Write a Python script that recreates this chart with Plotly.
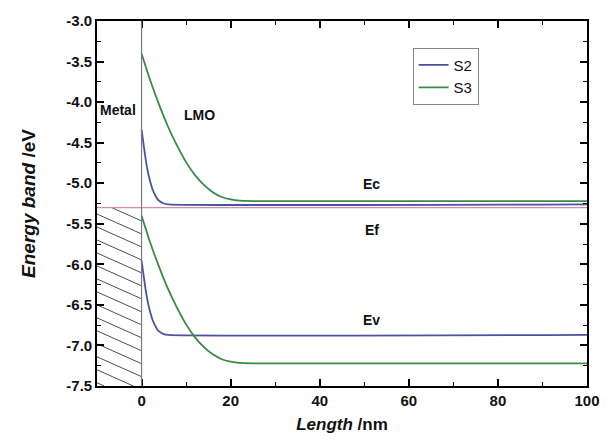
import numpy as np
import plotly.graph_objects as go

# ---- data ----
x_s3 = [0, 2, 4, 6, 8, 10, 12, 14, 16, 18, 20, 22, 25, 100]
ec_s3 = [-3.40, -3.74, -4.04, -4.31, -4.54, -4.74, -4.90, -5.02, -5.11, -5.17, -5.20, -5.215, -5.22, -5.22]
ev_s3 = [-5.40, -5.74, -6.04, -6.31, -6.54, -6.74, -6.90, -7.02, -7.11, -7.17, -7.20, -7.215, -7.22, -7.22]

x_s2 = [0, 0.5, 1, 1.5, 2, 2.5, 3, 3.5, 4, 5, 6, 100]
ec_s2 = [-4.34, -4.54, -4.73, -4.88, -4.99, -5.08, -5.14, -5.19, -5.22, -5.25, -5.26, -5.26]
ev_s2 = [-5.95, -6.15, -6.34, -6.49, -6.60, -6.69, -6.75, -6.80, -6.83, -6.86, -6.87, -6.87]

ef_level = -5.30
x_range = [-10, 100]
y_range = [-7.5, -3.0]

x_ticks = [0, 20, 40, 60, 80, 100]
x_tick_labels = ["0", "20", "40", "60", "80", "100"]
y_ticks = [-3.0, -3.5, -4.0, -4.5, -5.0, -5.5, -6.0, -6.5, -7.0, -7.5]
y_tick_labels = ["-3.0", "-3.5", "-4.0", "-4.5", "-5.0", "-5.5", "-6.0", "-6.5", "-7.0", "-7.5"]

labels = ["Metal", "LMO", "Ec", "Ef", "Ev"]
label_x = [-5.2, 12.9, 51.7, 51.7, 51.7]
label_y = [-4.10, -4.16, -5.01, -5.58, -6.69]

BLUE = "#4b52a6"
GREEN = "#3b8a43"
PINK = "#d98aa6"
FONT = "Liberation Sans, Arial, sans-serif"

fig = go.Figure()

# hatching of the metal region (x from -10 to 0, y from bottom to Ef)
xl, xr = x_range[0], 0.0
yb, yt = y_range[0], ef_level
slope = -0.0245
step = 0.16
hx, hy = [], []
c_vals = np.arange(yt + step * 1.5, yb - 0.5, -step)
for c0 in c_vals:
    xs = np.array([xl, xr])
    ys = c0 + slope * (xs - xl)
    x_a, y_a, x_b, y_b = xs[0], ys[0], xs[1], ys[1]
    if y_a > yt:
        x_a = xl + (yt - c0) / slope
        y_a = yt
    if y_b < yb:
        x_b = xl + (yb - c0) / slope
        y_b = yb
    if x_a >= x_b or y_a < yb or y_b > yt:
        continue
    hx += [x_a, x_b, None]
    hy += [y_a, y_b, None]
fig.add_trace(go.Scatter(x=hx, y=hy, mode="lines", line=dict(color="#3a3a3a", width=0.9),
                         showlegend=False, hoverinfo="skip"))

fig.add_trace(go.Scatter(x=x_range, y=[ef_level, ef_level], mode="lines",
                         line=dict(color=PINK, width=1.3), showlegend=False))

spl = dict(shape="spline", smoothing=0.6)
fig.add_trace(go.Scatter(x=x_s2, y=ec_s2, mode="lines", name="S2",
                         line=dict(color=BLUE, width=1.8, **spl)))
fig.add_trace(go.Scatter(x=x_s3, y=ec_s3, mode="lines", name="S3",
                         line=dict(color=GREEN, width=1.8, **spl)))
fig.add_trace(go.Scatter(x=x_s2, y=ev_s2, mode="lines", name="S2", showlegend=False,
                         line=dict(color=BLUE, width=1.8, **spl)))
fig.add_trace(go.Scatter(x=x_s3, y=ev_s3, mode="lines", name="S3", showlegend=False,
                         line=dict(color=GREEN, width=1.8, **spl)))

# interface line
fig.add_shape(type="line", xref="x", yref="paper", x0=0, x1=0, y0=0, y1=1,
              line=dict(color="#7a7a7a", width=1.2))

for t, ax_, ay_ in zip(labels, label_x, label_y):
    fig.add_annotation(x=ax_, y=ay_, text="<b>%s</b>" % t, showarrow=False,
                       font=dict(family=FONT, size=14, color="#111"))

axis_common = dict(showgrid=False, zeroline=False, showline=True, linecolor="black",
                   linewidth=1.6, mirror="ticks", ticks="inside", ticklen=7, tickwidth=1.5,
                   tickcolor="black",
                   tickfont=dict(family=FONT, size=15, color="#111", weight=700))

fig.update_xaxes(range=x_range, tickvals=x_ticks,
                 ticktext=["<b>%s</b>" % s for s in x_tick_labels],
                 minor=dict(ticks="inside", ticklen=4, tickwidth=1.3, tickcolor="black", dtick=10),
                 title=dict(text="<b><i>Length</i> /nm</b>", font=dict(family=FONT, size=17, color="#111"),
                            standoff=10),
                 **axis_common)
fig.update_yaxes(range=y_range, tickvals=y_ticks,
                 ticktext=["<b>%s</b>" % s for s in y_tick_labels],
                 minor=dict(ticks="inside", ticklen=4, tickwidth=1.3, tickcolor="black", dtick=0.25),
                 title=dict(text="<b><i>Energy band</i> /eV</b>", font=dict(family=FONT, size=19, color="#111"),
                            standoff=26),
                 **axis_common)

fig.update_layout(
    width=612, height=443,
    margin=dict(l=97, r=15, t=18, b=57),
    plot_bgcolor="white", paper_bgcolor="white",
    legend=dict(x=0.644, y=0.927, xanchor="left", yanchor="top",
                bordercolor="#888", borderwidth=1, bgcolor="white",
                font=dict(family=FONT, size=15, color="#111"),
                tracegroupgap=0, itemwidth=30),
)

fig.write_html("out.html")
